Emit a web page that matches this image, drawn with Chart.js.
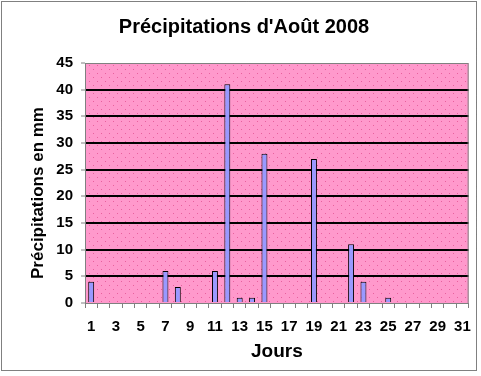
<!DOCTYPE html>
<html>
<head>
<meta charset="utf-8">
<script src="https://cdn.jsdelivr.net/npm/chart.js@4/dist/chart.umd.min.js"></script>
<style>
  html, body { margin: 0; padding: 0; background: #ffffff; }
  canvas { display: block; }
</style>
</head>
<body>
<canvas id="c" width="481" height="376"></canvas>
<script>
const chartTitle = "Précipitations d'Août 2008";
const xTitle = "Jours";
const yTitle = "Précipitations en mm";
const days = ["1","2","3","4","5","6","7","8","9","10","11","12","13","14","15","16",
              "17","18","19","20","21","22","23","24","25","26","27","28","29","30","31"];
const rainMm = [4,0,0,0,0,0,6,3,0,0,6,41,1,1,28,0,0,0,27,0,0,11,4,0,1,0,0,0,0,0,0];
const yMin = 0, yMax = 45, yStep = 5;

const FONT = "'Liberation Sans', Arial, sans-serif";

function makePattern(ctx) {
  const p = document.createElement('canvas');
  p.width = 8; p.height = 8;
  const g = p.getContext('2d');
  g.fillStyle = '#FF99CC';
  g.fillRect(0, 0, 8, 8);
  g.fillStyle = '#E8609E';
  g.fillRect(1, 1, 1, 1);
  g.fillRect(5, 5, 1, 1);
  return ctx.createPattern(p, 'repeat');
}

const plotBg = {
  id: 'plotBg',
  beforeDraw(chart) {
    const {ctx, chartArea: a} = chart;
    ctx.save();
    ctx.fillStyle = makePattern(ctx);
    ctx.fillRect(a.left, a.top, a.right - a.left, a.bottom - a.top);
    ctx.restore();
  },
  beforeDatasetsDraw(chart) {
    const {ctx, chartArea: a} = chart;
    ctx.save();
    ctx.strokeStyle = '#808080';
    ctx.lineWidth = 1;
    ctx.strokeRect(a.left + 0.5, a.top + 0.5, a.right - a.left - 1, a.bottom - a.top);
    ctx.restore();
  },
  afterDraw(chart) {
    const {ctx, chartArea: a} = chart;
    ctx.save();
    ctx.fillStyle = '#000000';
    ctx.font = "bold 17px " + FONT;
    ctx.textAlign = 'center';
    ctx.textBaseline = 'middle';
    ctx.translate(38, (a.top + a.bottom) / 2 + 10);
    ctx.rotate(-Math.PI / 2);
    ctx.fillText(yTitle, 0, 0);
    ctx.restore();
    ctx.save();
    ctx.strokeStyle = '#000000';
    ctx.lineWidth = 1;
    ctx.setLineDash([1, 1]);
    ctx.strokeRect(1.5, 1.5, 475, 369);
    ctx.restore();
  }
};

new Chart(document.getElementById('c'), {
  type: 'bar',
  data: {
    labels: days,
    datasets: [{
      data: rainMm,
      backgroundColor: '#9999FF',
      borderColor: '#000000',
      borderWidth: 1,
      categoryPercentage: 1,
      barPercentage: 0.48
    }]
  },
  options: {
    responsive: false,
    animation: false,
    layout: { padding: { left: 19, right: 12, top: 0, bottom: 0 } },
    plugins: {
      legend: { display: false },
      tooltip: { enabled: false },
      title: {
        display: true,
        text: chartTitle,
        color: '#000000',
        font: { family: FONT, size: 20, weight: 'bold', lineHeight: 1.2 },
        padding: { top: 15, bottom: 24 }
      }
    },
    scales: {
      x: {
        offset: true,
        border: { display: true, color: '#808080', width: 1 },
        grid: {
          offset: true,
          drawOnChartArea: false,
          drawTicks: true,
          tickLength: 5,
          tickColor: '#808080',
          tickWidth: 1
        },
        ticks: {
          autoSkip: false,
          maxRotation: 0,
          minRotation: 0,
          padding: 10,
          color: '#000000',
          font: { family: FONT, size: 15, weight: 'bold' },
          callback: function(v, i) { return i % 2 === 0 ? days[i] : ''; }
        },
        title: {
          display: true,
          text: xTitle,
          color: '#000000',
          font: { family: FONT, size: 19, weight: 'bold', lineHeight: 1.2 },
          padding: { top: 0, bottom: 13 }
        },
        afterFit(scale) { scale.height = 73; }
      },
      y: {
        min: yMin,
        max: yMax,
        border: { display: true, color: '#808080', width: 1 },
        grid: {
          color: (c) => (c.tick && (c.tick.value === yMin || c.tick.value === yMax)) ? 'rgba(0,0,0,0)' : '#000000',
          lineWidth: 2,
          drawTicks: true,
          tickLength: 4,
          tickColor: '#808080',
          tickWidth: 1
        },
        ticks: {
          stepSize: yStep,
          padding: 8,
          color: '#000000',
          font: { family: FONT, size: 15, weight: 'bold' }
        },
        title: { display: false },
        afterFit(scale) { scale.width = 66; }
      }
    }
  },
  plugins: [plotBg]
});
</script>
</body>
</html>
